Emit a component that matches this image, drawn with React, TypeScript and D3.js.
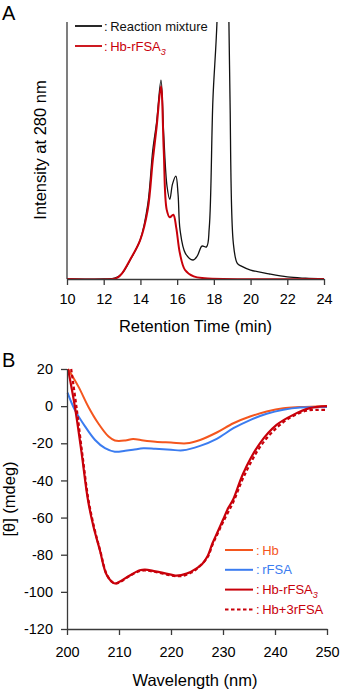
import { useRef, useEffect } from 'react';
import * as d3 from 'd3';

// panel A: size-exclusion chromatogram (retention time, intensity)
const mixturePts: [number, number][] = [
  [10, 0], [12, 0], [12.6, 0.003], [13, 0.022], [13.45, 0.075], [14, 0.155], [14.4, 0.29],
  [14.67, 0.5], [14.88, 0.61], [15.12, 0.774], [15.27, 0.56], [15.45, 0.36], [15.6, 0.31],
  [15.75, 0.37], [15.93, 0.4], [16.05, 0.33], [16.16, 0.19], [16.45, 0.1], [16.86, 0.074],
  [17.1, 0.09], [17.35, 0.128], [17.6, 0.125], [17.75, 0.2], [17.95, 0.7], [18.17, 1.0],
  [18.5, 2.0], [18.82, 1.0], [18.88, 0.7], [19.06, 0.14], [19.27, 0.062], [19.5, 0.05],
  [20, 0.035], [21, 0.02], [22, 0.008], [23, 0.003], [24, 0],
];
const conjugatePts: [number, number][] = [
  [10, 0], [12.5, 0], [12.75, 0.005], [13, 0.022], [13.43, 0.074], [13.98, 0.15], [14.4, 0.27],
  [14.67, 0.46], [14.88, 0.59], [15.12, 0.75], [15.27, 0.5], [15.43, 0.27], [15.6, 0.24],
  [15.79, 0.25], [15.95, 0.2], [16.15, 0.1], [16.43, 0.035], [16.9, 0.01], [17.5, 0.003], [24, 0],
];
const timeTicks = [10, 12, 14, 16, 18, 20, 22, 24];

// panel B: CD spectra (wavelength, mdeg)
const hbPts: [number, number][] = [
  [200.2, 20], [202.2, 10.5], [204.1, -0.3], [206, -9.2], [208, -16.4], [209.2, -18.5],
  [211.2, -18.5], [212.7, -17.7], [214.7, -18.5], [217, -19.2], [220, -19.6], [223, -20],
  [225.6, -18.2], [228.8, -14.2], [232, -9.2], [235.2, -5.6], [238.4, -2.9], [241.6, -1.1],
  [244.8, -0.5], [250, 0],
];
const rfsaPts: [number, number][] = [
  [200.1, 7.3], [201.5, -2], [203.5, -11], [205.4, -18.2], [207.3, -22.6], [209.2, -24.5],
  [211.2, -24], [212.7, -23.5], [214.7, -22.7], [217, -23], [220, -23.5], [222.3, -23.8],
  [225.6, -21.4], [228.8, -17.6], [232, -11.9], [235.2, -7.5], [238.4, -4.1], [241.6, -1.9],
  [244.8, -0.7], [250, -0.4],
];
const conjCdPts: [number, number][] = [
  [200.2, 20], [201.5, 0], [202.8, -25], [204, -50], [205.1, -65], [206.3, -77.3],
  [207.6, -90.7], [208.9, -95.2], [209.3, -95.5], [210, -94.7], [212, -91.3], [214, -88.4],
  [215, -88], [217, -89], [220, -90.7], [221, -91.3], [223, -90.2], [225, -87.2], [226, -85],
  [227, -81], [228, -73.7], [229, -67.5], [230, -61.2], [231, -54.9], [232, -50],
  [233.9, -36.1], [237.1, -20], [240.3, -10.1], [243.5, -4.7], [246.7, -1.1], [250, 0],
];
const mixCdPts: [number, number][] = [
  [200.8, 20], [201.8, 0], [203, -27], [204.1, -50], [205.2, -65], [206.4, -78], [207.7, -91],
  [209, -95.3], [210, -95], [212, -91.5], [214, -88.8], [215, -88.5], [217, -89.3], [220, -91.2],
  [222, -91.5], [224, -89.5], [225, -87.5], [227, -81.5], [228, -74.5], [229, -68.5],
  [230, -62.5], [232, -51.5], [234, -38], [237, -22.5], [240, -12.5], [243, -6], [246, -2.5],
  [248, -2], [250, -2],
];
const waveTicks = [200, 210, 220, 230, 240, 250];
const mdegTicks = [20, 0, -20, -40, -60, -80, -100, -120];

const FONT = '"Liberation Sans", Arial, sans-serif';
const AXIS = '#3a3a3a';
const BLACK = '#111111';
const RED = '#c8000a';
const ORANGE = '#f4561e';
const BLUE = '#3b7cf0';

function Chart() {
  const svgRef = useRef<SVGSVGElement>(null);

  useEffect(() => {
    const svg = d3.select(svgRef.current);
    svg.selectAll('*').remove();
    svg.attr('font-family', FONT);

    // ---------- panel A ----------
    const xA = d3.scaleLinear().domain([10, 24]).range([67, 324]);
    const yA = d3.scaleLinear().domain([0, 1]).range([279, 22]);

    svg.append('text').attr('x', 2).attr('y', 20).attr('font-size', 20).text('A');

    svg.append('defs').append('clipPath').attr('id', 'clipA')
      .append('rect').attr('x', 60).attr('y', 22).attr('width', 280).attr('height', 258);

    const lineA = d3.line<[number, number]>()
      .x((d) => xA(d[0]))
      .y((d) => yA(d[1]))
      .curve(d3.curveCatmullRom.alpha(0.5));

    const gA = svg.append('g').attr('clip-path', 'url(#clipA)');
    gA.append('path').datum(mixturePts).attr('d', lineA)
      .attr('fill', 'none').attr('stroke', BLACK).attr('stroke-width', 1.3);
    gA.append('path').datum(conjugatePts).attr('d', lineA)
      .attr('fill', 'none').attr('stroke', RED).attr('stroke-width', 2);

    svg.append('line').attr('x1', 67).attr('x2', 67).attr('y1', 22).attr('y2', 279)
      .attr('stroke', AXIS).attr('stroke-width', 1.3);

    const axA = svg.append('g').attr('transform', 'translate(0,279)')
      .call(d3.axisBottom(xA).tickValues(timeTicks).tickSize(6).tickSizeOuter(0).tickPadding(9));
    axA.select('.domain').attr('stroke', AXIS).attr('stroke-width', 1.3);
    axA.selectAll('.tick line').attr('stroke', AXIS).attr('stroke-width', 1.3);
    axA.selectAll('.tick text').attr('font-size', 14.5).attr('font-family', FONT).attr('fill', '#000');

    svg.append('text').attr('x', 195.5).attr('y', 332).attr('text-anchor', 'middle')
      .attr('font-size', 16.5).text('Retention Time (min)');
    svg.append('text').attr('transform', 'translate(46,150) rotate(-90)').attr('text-anchor', 'middle')
      .attr('font-size', 16.5).text('Intensity at 280 nm');

    // legend A
    const legA = [
      { label: 'Reaction mixture', color: BLACK, sub: '' },
      { label: 'Hb-rFSA', color: RED, sub: '3' },
    ];
    legA.forEach((l, i) => {
      const y = 26 + i * 20;
      svg.append('line').attr('x1', 75).attr('x2', 102).attr('y1', y).attr('y2', y)
        .attr('stroke', l.color).attr('stroke-width', 1.8);
      const t = svg.append('text').attr('x', 104).attr('y', y + 4.5).attr('font-size', 13)
        .attr('fill', l.color).text(':' + '\u2009' + l.label);
      if (l.sub) {
        t.append('tspan').attr('dy', 4).attr('font-size', 9).attr('font-style', 'italic').text(l.sub);
      }
    });

    // ---------- panel B ----------
    const xB = d3.scaleLinear().domain([200, 250]).range([67, 327]);
    const yB = d3.scaleLinear().domain([-120, 20]).range([629, 369]);

    svg.append('text').attr('x', 2).attr('y', 367).attr('font-size', 20).text('B');

    const lineB = d3.line<[number, number]>()
      .x((d) => xB(d[0]))
      .y((d) => yB(d[1]))
      .curve(d3.curveCatmullRom.alpha(0.5));

    const series = [
      { pts: hbPts, color: ORANGE, dash: null, w: 2 },
      { pts: rfsaPts, color: BLUE, dash: null, w: 2 },
      { pts: mixCdPts, color: RED, dash: '3.5,2.5', w: 2.2 },
      { pts: conjCdPts, color: RED, dash: null, w: 2.2 },
    ];
    series.forEach((s) => {
      const p = svg.append('path').datum(s.pts).attr('d', lineB)
        .attr('fill', 'none').attr('stroke', s.color).attr('stroke-width', s.w);
      if (s.dash) p.attr('stroke-dasharray', s.dash);
    });

    const axBx = svg.append('g').attr('transform', 'translate(0,629)')
      .call(d3.axisBottom(xB).tickValues(waveTicks).tickSize(6).tickSizeOuter(0).tickPadding(12));
    const axBy = svg.append('g').attr('transform', 'translate(67,0)')
      .call(d3.axisLeft(yB).tickValues(mdegTicks).tickSize(6).tickSizeOuter(0).tickPadding(8)
        .tickFormat((d) => String(d).replace('\u2212', '-')));
    [axBx, axBy].forEach((ax) => {
      ax.select('.domain').attr('stroke', AXIS).attr('stroke-width', 1.3);
      ax.selectAll('.tick line').attr('stroke', AXIS).attr('stroke-width', 1.3);
      ax.selectAll('.tick text').attr('font-size', 14.5).attr('font-family', FONT).attr('fill', '#000');
    });

    svg.append('text').attr('x', 195).attr('y', 686).attr('text-anchor', 'middle')
      .attr('font-size', 16.5).text('Wavelength (nm)');
    svg.append('text').attr('transform', 'translate(15,499) rotate(-90)').attr('text-anchor', 'middle')
      .attr('font-size', 16.5).text('[\u03b8] (mdeg)');

    // legend B
    const legB = [
      { label: 'Hb', color: ORANGE, sub: '', dash: null },
      { label: 'rFSA', color: BLUE, sub: '', dash: null },
      { label: 'Hb-rFSA', color: RED, sub: '3', dash: null },
      { label: 'Hb+3rFSA', color: RED, sub: '', dash: '3.5,2.5' },
    ];
    legB.forEach((l, i) => {
      const y = 550 + i * 19.8;
      const ln = svg.append('line').attr('x1', 225).attr('x2', 253).attr('y1', y).attr('y2', y)
        .attr('stroke', l.color).attr('stroke-width', 2);
      if (l.dash) ln.attr('stroke-dasharray', l.dash);
      const t = svg.append('text').attr('x', 256).attr('y', y + 4.5).attr('font-size', 13)
        .attr('fill', l.color).text(':' + '\u2009' + l.label);
      if (l.sub) {
        t.append('tspan').attr('dy', 4).attr('font-size', 9).attr('font-style', 'italic').text(l.sub);
      }
    });
  }, []);

  return (
    <svg
      ref={svgRef}
      width={340}
      height={690}
      style={{ position: 'absolute', left: 0, top: 0, background: '#fff' }}
    />
  );
}

export default function App() {
  return <Chart />;
}
